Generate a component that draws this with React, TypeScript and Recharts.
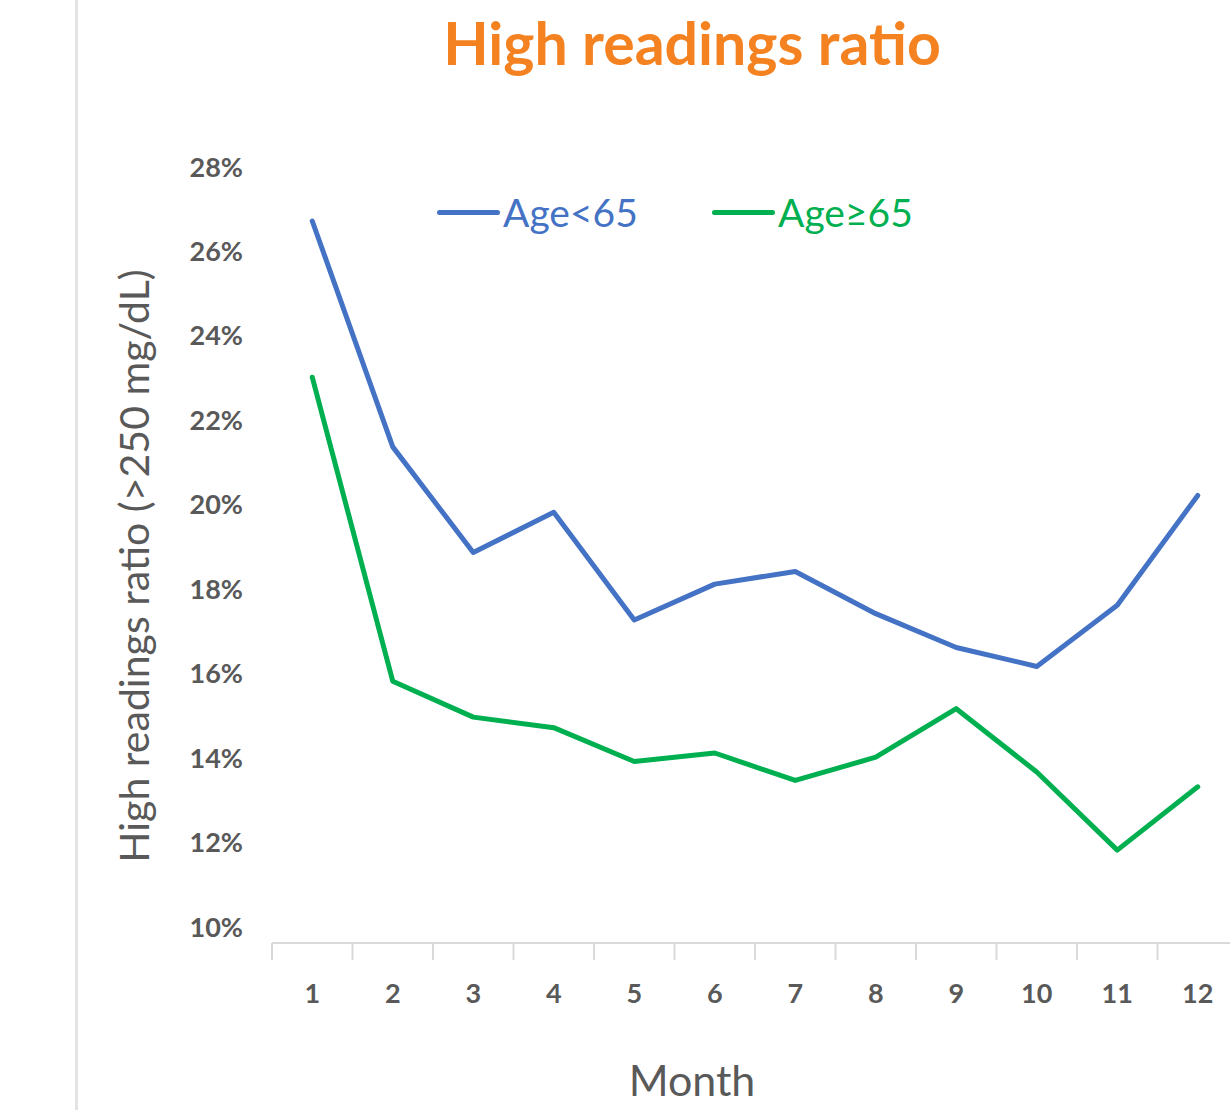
import React from 'react';
import { LineChart, Line, XAxis, YAxis } from 'recharts';

const months = ['1', '2', '3', '4', '5', '6', '7', '8', '9', '10', '11', '12'];
const ageUnder65 = [27.1, 21.75, 19.25, 20.2, 17.65, 18.5, 18.8, 17.8, 17.0, 16.55, 18.0, 20.6];
const ageOver65 = [23.4, 16.2, 15.35, 15.1, 14.3, 14.5, 13.85, 14.4, 15.55, 14.05, 12.2, 13.7];
const yTicks = [10, 12, 14, 16, 18, 20, 22, 24, 26, 28];

const series = [
  { key: 'under65', name: 'Age<65', color: '#4472C4' },
  { key: 'over65', name: 'Age\u226565', color: '#00B050' },
];

const data = months.map((m, i) => ({ month: m, under65: ageUnder65[i], over65: ageOver65[i] }));

const FONT = 'Lato, "Open Sans", sans-serif';
const GREY = '#595959';
const BAND = 80.5;

// y tick labels sit a bit above their value, like the original
function YTick(props: any) {
  const { y, payload } = props;
  return (
    <text x={243} y={y - 17} textAnchor="end" dominantBaseline="central"
      fontFamily={FONT} fontWeight={700} fontSize={27} fill={GREY}>
      {payload.value}%
    </text>
  );
}

// category ticks: boundary mark on the left of each band + label
function XTick(props: any) {
  const { x, payload } = props;
  const left = x - BAND / 2;
  return (
    <g>
      <line x1={left} x2={left} y1={943} y2={960} stroke="#D9D9D9" strokeWidth={2} />
      <text x={x} y={992} textAnchor="middle" dominantBaseline="central"
        fontFamily={FONT} fontWeight={700} fontSize={27} fill={GREY}>
        {payload.value}
      </text>
    </g>
  );
}

export default function App() {
  return (
    <div style={{ position: 'absolute', left: 0, top: 0, width: 1230, height: 1110, background: '#fff', overflow: 'hidden' }}>
      <div style={{ position: 'absolute', left: 75, top: 0, width: 3, height: 1110, background: '#E3E3E3' }} />
      <div style={{ position: 'absolute', left: 0, width: 1384, top: 8, textAlign: 'center', fontFamily: FONT, fontWeight: 700, fontSize: 59, color: '#F58220', lineHeight: '70px' }}>
        High readings ratio
      </div>
      <div style={{ position: 'absolute', left: 133, top: 566, transform: 'translate(-50%, -50%) rotate(-90deg)', whiteSpace: 'nowrap', fontFamily: FONT, fontSize: 41, color: GREY }}>
        High readings ratio (&gt;250 mg/dL)
      </div>
      <div style={{ position: 'absolute', left: 0, width: 1384, top: 1054, textAlign: 'center', fontFamily: FONT, fontSize: 43, color: GREY, lineHeight: '52px' }}>
        Month
      </div>
      {/* legend */}
      {series.map((s, i) => (
        <div key={s.key} style={{ position: 'absolute', left: i === 0 ? 437 : 712, top: 187, height: 50, display: 'flex', alignItems: 'center', zIndex: 2 }}>
          <span style={{ display: 'inline-block', width: 63, height: 5, borderRadius: 3, background: s.color }} />
          <span style={{ marginLeft: 3, fontFamily: FONT, fontSize: 39, color: s.color, lineHeight: '50px' }}>{s.name}</span>
        </div>
      ))}
      <LineChart width={1230} height={1110} data={data} margin={{ top: 183, right: -8, bottom: 0, left: 0 }}>
        <XAxis dataKey="month" height={167} padding={{ left: BAND / 2, right: BAND / 2 }}
          axisLine={{ stroke: '#D9D9D9', strokeWidth: 2 }} tickLine={false} tick={<XTick />} interval={0} />
        <YAxis type="number" domain={[10, 28]} ticks={yTicks} width={272} axisLine={false} tickLine={false} tick={<YTick />} />
        {series.map((s) => (
          <Line key={s.key} type="linear" dataKey={s.key} name={s.name} stroke={s.color} strokeWidth={5}
            strokeLinecap="round" strokeLinejoin="round" dot={false} isAnimationActive={false} />
        ))}
      </LineChart>
    </div>
  );
}
